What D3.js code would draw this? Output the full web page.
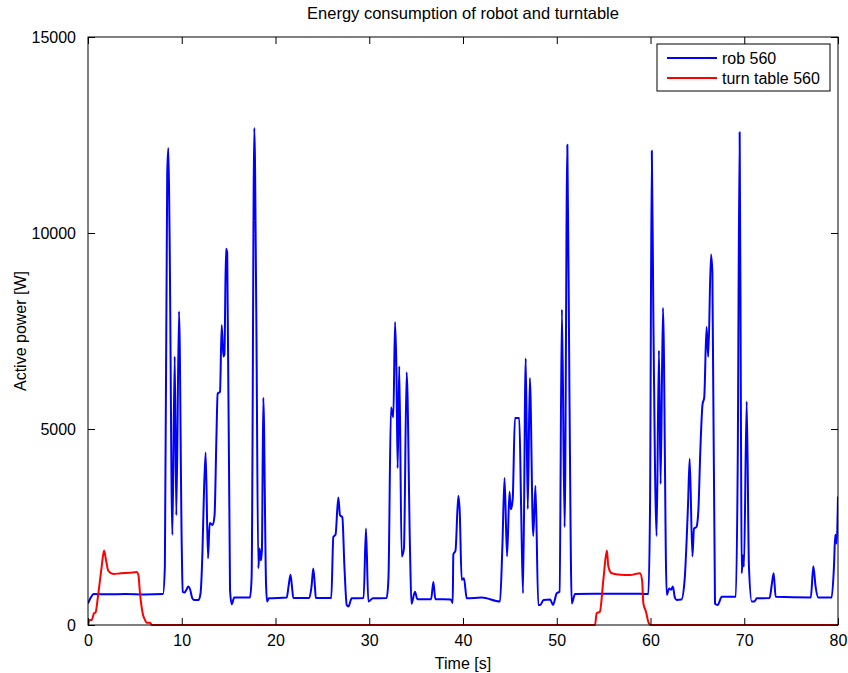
<!DOCTYPE html>
<html>
<head>
<meta charset="utf-8">
<script src="https://cdn.jsdelivr.net/npm/d3@7"></script>
<style>
  body { margin: 0; background: #fff; }
  text { font-family: "Liberation Sans", Arial, sans-serif; }
</style>
</head>
<body>
<svg id="chart" width="848" height="673"></svg>
<script>
// data
const robTime = [0, 0.3, 0.6, 2, 4, 6, 8.0, 8.2, 8.45, 8.57, 8.7, 9.0, 9.25, 9.42, 9.71, 10.0, 10.1, 10.3, 10.5, 10.7, 10.9, 11.1, 11.3, 11.8,
  12.0, 12.2, 12.35, 12.55, 12.8, 12.98, 13.3, 13.5, 13.69, 13.83, 14.08, 14.26, 14.44, 14.55, 14.72, 14.85, 15.15, 15.33, 15.6, 17.28,
  17.45, 17.74, 17.95, 18.17, 18.3, 18.45, 18.55, 18.7, 18.99, 19.1, 19.3, 21.2, 21.4, 21.6, 21.75, 21.9, 23.6, 23.85, 24.03, 24.2, 24.3,
  25.95, 26.17, 26.4, 26.7, 26.88, 27.13, 27.35, 27.6, 27.77, 28.13, 29.4, 29.65, 29.9, 30.4, 31.86, 32.05, 32.32, 32.57, 32.75, 32.9,
  33.03, 33.2, 33.46, 33.7, 33.99, 34.35, 34.5, 34.88, 35.13, 36.6, 36.84, 37.05, 38.7, 38.9, 38.97, 39.2, 39.5, 39.65, 39.86, 40.1, 40.4,
  42.0, 43.95, 44.2, 44.43, 44.7, 44.96, 45.1, 45.3, 45.54, 46.0, 46.2, 46.4, 46.69, 46.91, 47.13, 47.49, 47.73, 48.03, 48.24, 48.6, 49.3,
  49.6, 50.0, 50.3, 50.55, 50.84, 51.13, 51.35, 51.6, 51.95, 54, 56, 58, 59.77, 59.95, 60.14, 60.3, 60.65, 60.9, 61.08, 61.33, 61.73,
  62.0, 62.2, 62.38, 62.6, 62.8, 63.3, 63.64, 64.0, 64.18, 64.47, 64.64, 64.9, 65.1, 65.33, 65.55, 65.73, 65.98, 66.16, 66.45, 66.6,
  66.88, 67.17, 67.6, 69.1, 69.3, 69.51, 69.65, 69.73, 69.84, 69.97, 70.26, 70.5, 70.8, 71.1, 71.33, 72.7, 72.93, 73.14, 73.35, 77.1,
  77.37, 77.6, 77.9, 79.32, 79.57, 79.71, 79.86, 80.0];
const robPower = [550, 700, 790, 785, 790, 780, 790, 1500, 11500, 12170, 10000, 2300, 6850, 2800, 8000, 2000, 850, 830, 900, 980, 900, 700, 640, 640,
  800, 1800, 3200, 4400, 1700, 2600, 2550, 2800, 4700, 5900, 5950, 7650, 6850, 6900, 9600, 9500, 900, 530, 700, 700,
  1200, 12680, 8000, 1450, 1950, 1650, 1900, 5800, 1060, 600, 680, 700, 1000, 1280, 1000, 690, 690, 1000, 1440, 1000, 690,
  690, 2250, 2300, 3250, 2800, 2750, 1500, 510, 470, 680, 690, 2460, 600, 680, 690, 1200, 5550, 5300, 7730, 6500,
  4000, 6600, 1750, 1950, 6450, 1900, 540, 850, 660, 660, 1100, 660, 650, 560, 1800, 1900, 3300, 2900, 1150, 1190, 680,
  700, 600, 2000, 3750, 1750, 3400, 2950, 3200, 5280, 5280, 3000, 810, 6800, 2960, 6300, 2270, 3550, 510, 510, 640, 650,
  510, 810, 850, 8050, 2500, 12250, 6000, 550, 790, 800, 795, 800, 790, 3000, 12100, 8000, 2270, 7000, 3600, 8090, 770,
  930, 900, 980, 700, 640, 650, 1150, 3050, 4240, 1750, 2460, 2500, 2900, 4550, 5630, 5800, 7600, 6840, 9450, 9000,
  540, 510, 720, 720, 4000, 12570, 5000, 1320, 1780, 1490, 5700, 1500, 600, 600, 680, 690, 1020, 1320, 720, 700,
  1500, 1000, 700, 700, 1490, 2300, 2080, 3280];

const tableTime = [0, 0.03, 0.2, 0.4, 0.64, 0.8, 1.1, 1.46, 1.71, 1.92, 2.17, 2.7, 3.5, 4.48, 5.19, 5.37, 5.55, 5.83, 6.08, 6.26, 6.61, 6.8,
  54.08, 54.26, 54.6, 54.97, 55.35, 55.5, 55.86, 56.8, 57.8, 58.88, 59.1, 59.24, 59.52, 59.77, 60.03, 80];
const tablePower = [0, 30, 130, 130, 300, 320, 800, 1490, 1900, 1660, 1380, 1300, 1320, 1330, 1350, 1280, 800, 300, 130, 60, 60, 0,
  0, 300, 340, 1150, 1900, 1500, 1320, 1280, 1275, 1320, 1150, 550, 340, 80, 0, 0];

const xTicks = [0, 10, 20, 30, 40, 50, 60, 70, 80];
const yTicks = [0, 5000, 10000, 15000];
const seriesNames = ["rob 560", "turn table 560"];
const seriesColors = ["#0000ff", "#ff0000"];

const svg = d3.select("#chart");
const margin = { top: 37, right: 10, bottom: 48, left: 88 };
const width = +svg.attr("width");
const height = +svg.attr("height");

const x = d3.scaleLinear().domain([0, 80]).range([margin.left, width - margin.right]);
const y = d3.scaleLinear().domain([0, 15000]).range([height - margin.bottom, margin.top]);

const rob = robTime.map((t, i) => [t, robPower[i]]);
const table = tableTime.map((t, i) => [t, tablePower[i]]);

const line = d3.line().x(d => x(d[0])).y(d => y(d[1])).curve(d3.curveMonotoneX);

svg.append("defs").append("clipPath").attr("id", "clip")
  .append("rect")
  .attr("x", margin.left).attr("y", margin.top)
  .attr("width", x(80) - x(0)).attr("height", y(0) - y(15000) + 1);

const plot = svg.append("g").attr("clip-path", "url(#clip)");
[rob, table].forEach((d, i) => {
  plot.append("path")
    .datum(d)
    .attr("fill", "none")
    .attr("stroke", seriesColors[i])
    .attr("stroke-width", 2)
    .attr("stroke-linejoin", "round")
    .attr("d", line);
});

// axes, matlab style: ticks inside, box on
const tick = 7;
const fs = 16;
const styleAxis = g => {
  g.select(".domain").remove();
  g.selectAll(".tick line").attr("stroke", "#000");
  g.selectAll(".tick text").attr("font-size", fs).attr("fill", "#000");
};

svg.append("g")
  .attr("transform", `translate(0,${y(0)})`)
  .call(d3.axisBottom(x).tickValues(xTicks).tickSizeInner(-tick).tickSizeOuter(0).tickPadding(10))
  .call(styleAxis);
svg.append("g")
  .attr("transform", `translate(0,${y(15000)})`)
  .call(d3.axisTop(x).tickValues(xTicks).tickSizeInner(-tick).tickSizeOuter(0).tickFormat(""))
  .call(styleAxis);
svg.append("g")
  .attr("transform", `translate(${x(0)},0)`)
  .call(d3.axisLeft(y).tickValues(yTicks).tickSizeInner(-tick).tickSizeOuter(0).tickPadding(12).tickFormat(d3.format("d")))
  .call(styleAxis);
svg.append("g")
  .attr("transform", `translate(${x(80)},0)`)
  .call(d3.axisRight(y).tickValues(yTicks).tickSizeInner(-tick).tickSizeOuter(0).tickFormat(""))
  .call(styleAxis);

svg.append("rect")
  .attr("x", x(0)).attr("y", y(15000))
  .attr("width", x(80) - x(0)).attr("height", y(0) - y(15000))
  .attr("fill", "none").attr("stroke", "#000").attr("stroke-width", 1);

// titles
svg.append("text")
  .attr("x", (x(0) + x(80)) / 2).attr("y", 19)
  .attr("text-anchor", "middle").attr("font-size", 16.5)
  .text("Energy consumption of robot and turntable");
svg.append("text")
  .attr("x", (x(0) + x(80)) / 2).attr("y", 669)
  .attr("text-anchor", "middle").attr("font-size", fs)
  .text("Time [s]");
svg.append("text")
  .attr("transform", `translate(26,${(y(0) + y(15000)) / 2}) rotate(-90)`)
  .attr("text-anchor", "middle").attr("font-size", fs)
  .text("Active power [W]");

// legend
const legend = svg.append("g").attr("transform", "translate(657,44)");
legend.append("rect")
  .attr("width", 173).attr("height", 47)
  .attr("fill", "#fff").attr("stroke", "#000").attr("stroke-width", 1);
seriesNames.forEach((name, i) => {
  const ly = 14 + i * 20;
  legend.append("line")
    .attr("x1", 10).attr("x2", 60).attr("y1", ly).attr("y2", ly)
    .attr("stroke", seriesColors[i]).attr("stroke-width", 2);
  legend.append("text")
    .attr("x", 65).attr("y", ly + 6).attr("font-size", fs)
    .text(name);
});
</script>
</body>
</html>
